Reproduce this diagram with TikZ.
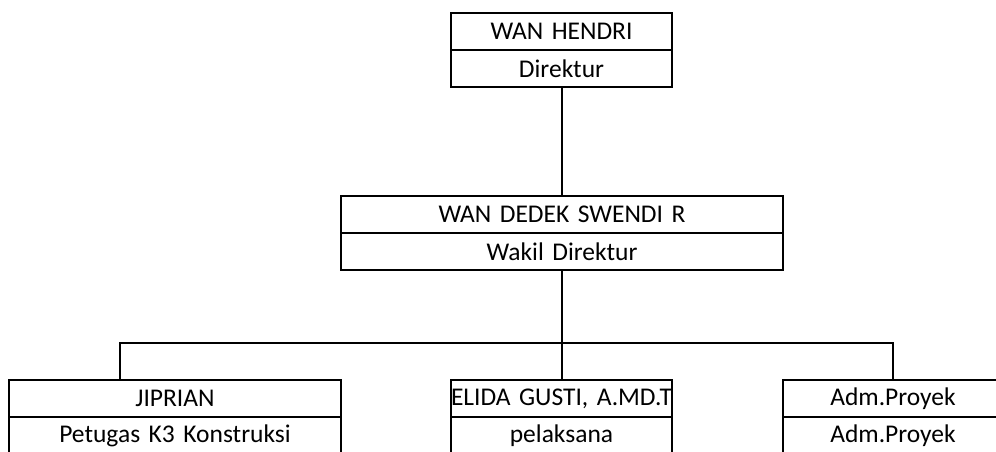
\documentclass[tikz,border=0pt]{standalone}
\usepackage{fontspec}
\setmainfont{Carlito}
\usepackage{tikz}

\tikzset{
	sel/.style={draw, line width=2pt, minimum height=37pt, inner sep=0pt,
		text width=#1, align=center, font=\fontsize{25.5}{30}\selectfont},
	garis/.style={line width=2pt}
}

\begin{document}
\begin{tikzpicture}[x=1pt,y=-1pt]
		% Frame
		\useasboundingbox (0,0) rectangle (996,452);
		\clip (0,0) rectangle (996,452);

		% Direktur
		\node[sel=221pt] (hendri) at (561.5,31.5) {WAN HENDRI};
		\node[sel=221pt] (direktur) at (561.5,68.5) {Direktur};

		% Wakil direktur
		\node[sel=442pt] (dedek) at (562,214.5) {WAN DEDEK SWENDI R};
		\node[sel=442pt] (wakil) at (562,251.5) {Wakil Direktur};

		% Bawahan
		\node[sel=332pt] (jiprian) at (175,398.5) {JIPRIAN};
		\node[sel=332pt] (petugas) at (175,435.5) {Petugas K3 Konstruksi};
		\node[sel=221pt] (elida) at (561.5,398.5) {ELIDA GUSTI, A.MD.T};
		\node[sel=221pt] (pelaksana) at (561.5,435.5) {pelaksana};
		\node[sel=220pt] (adm) at (893,398.5) {Adm.Proyek};
		\node[sel=220pt] (admJab) at (893,435.5) {Adm.Proyek};

		% Garis
		\coordinate (kiri) at (120,343);
		\coordinate (kanan) at (893,343);
		\draw[garis] (direktur.south) -- (direktur.south |- dedek.north);
		\draw[garis] (wakil.south -| elida.north) -- (elida.north);
		\draw[garis] (kiri |- jiprian.north) -- (kiri) -- (kanan) -- (adm.north);
	\end{tikzpicture}
\end{document}
